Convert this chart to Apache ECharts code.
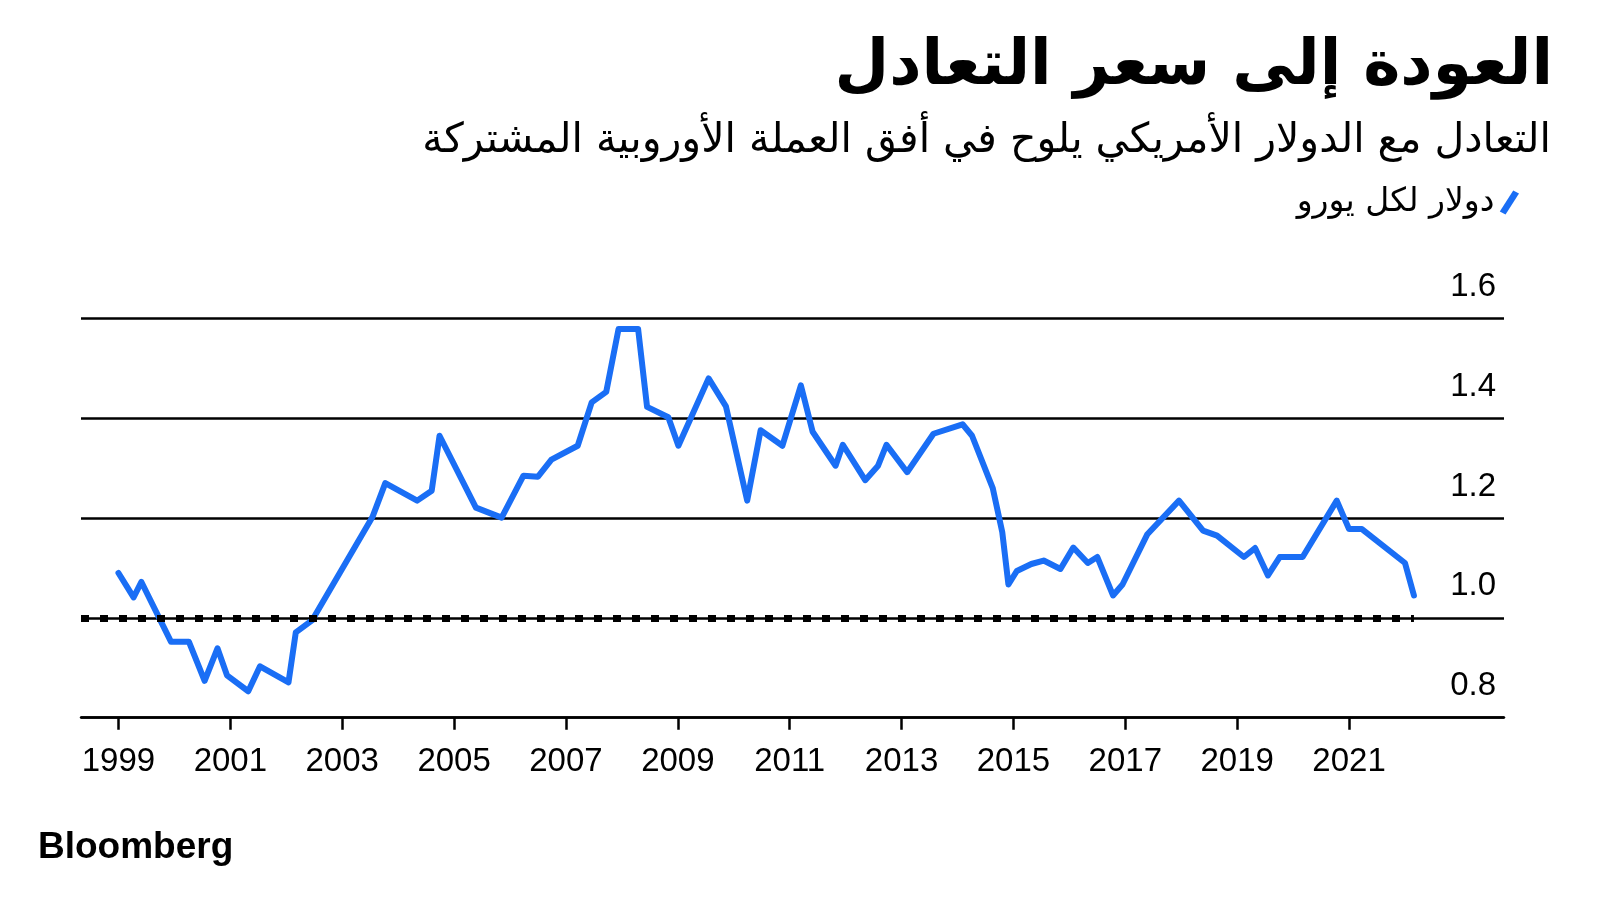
<!DOCTYPE html>
<html lang="ar">
<head>
<meta charset="utf-8">
<title>العودة إلى سعر التعادل</title>
<script src="https://cdn.jsdelivr.net/npm/echarts@6/dist/echarts.min.js"></script>
<style>
  html, body { margin: 0; padding: 0; background: #fff; }
  #chart { width: 1600px; height: 900px; }
</style>
</head>
<body>
<div id="chart"></div>
<script>
// decimal year of each point
const years = [
  1999.00, 1999.27, 1999.41, 1999.94, 2000.26, 2000.54, 2000.77, 2000.94,
  2001.32, 2001.53, 2002.04, 2002.17, 2002.46, 2003.54, 2003.77, 2004.34,
  2004.60, 2004.74, 2005.39, 2005.85, 2006.24, 2006.50, 2006.74, 2007.21,
  2007.46, 2007.72, 2007.94, 2008.29, 2008.45, 2008.83, 2009.01, 2009.55,
  2009.86, 2010.24, 2010.48, 2010.87, 2011.20, 2011.41, 2011.82, 2011.95,
  2012.35, 2012.58, 2012.73, 2013.10, 2013.57, 2014.09, 2014.26, 2014.63,
  2014.80, 2014.91, 2015.06, 2015.32, 2015.54, 2015.84, 2016.07, 2016.33,
  2016.50, 2016.78, 2016.95, 2017.39, 2017.96, 2018.39, 2018.64, 2019.12,
  2019.32, 2019.55, 2019.76, 2020.17, 2020.78, 2021.00, 2021.23, 2022.00,
  2022.16
];

// dollars per euro
const usdPerEuro = [
  1.090, 1.041, 1.072, 0.952, 0.952, 0.874, 0.939, 0.885,
  0.853, 0.903, 0.871, 0.971, 0.995, 1.202, 1.270, 1.235,
  1.255, 1.365, 1.221, 1.201, 1.285, 1.283, 1.317, 1.345,
  1.432, 1.453, 1.579, 1.579, 1.423, 1.402, 1.345, 1.480,
  1.424, 1.235, 1.376, 1.345, 1.466, 1.373, 1.305, 1.347,
  1.276, 1.305, 1.347, 1.292, 1.369, 1.388, 1.365, 1.260,
  1.172, 1.067, 1.094, 1.108, 1.115, 1.098, 1.141, 1.110,
  1.122, 1.045, 1.067, 1.167, 1.235, 1.175, 1.165, 1.122,
  1.140, 1.085, 1.122, 1.122, 1.235, 1.178, 1.178, 1.110,
  1.045
];

const tickYears = [1999, 2001, 2003, 2005, 2007, 2009, 2011, 2013, 2015, 2017, 2019, 2021];
const parity = 1.0;

const seriesName = 'دولار لكل يورو';
const numFont = '"Liberation Sans", Arial, sans-serif';
const arFont = '"DejaVu Sans", sans-serif';
const xMin = 1998.33;
const xMax = 2023.77;

const chart = echarts.init(document.getElementById('chart'));

chart.setOption({
  animation: false,
  backgroundColor: '#fff',
  title: [
    {
      text: 'العودة إلى سعر التعادل',
      right: 42,
      top: 31,
      textStyle: { fontFamily: arFont, fontSize: 63, fontWeight: 'bold', color: '#000' }
    },
    {
      text: 'التعادل مع الدولار الأمريكي يلوح في أفق العملة الأوروبية المشتركة',
      right: 44,
      top: 116,
      textStyle: { fontFamily: arFont, fontSize: 41, fontWeight: 'normal', color: '#000' }
    },
    {
      text: 'Bloomberg',
      left: 33,
      top: 824,
      textStyle: { fontFamily: numFont, fontSize: 37, fontWeight: 'bold', color: '#000' }
    }
  ],
  legend: {
    data: [seriesName],
    right: 76,
    top: 181,
    align: 'right',
    itemWidth: 20,
    itemHeight: 24,
    icon: 'path://M0,22 L14,0 L20,3 L6,25 Z',
    textStyle: { fontFamily: arFont, fontSize: 33, color: '#000' }
  },
  grid: { left: 81, right: 96, top: 318.5, bottom: 182.3 },
  xAxis: {
    type: 'value',
    min: xMin,
    max: xMax,
    axisLine: { show: true, lineStyle: { color: '#000', width: 2.5 } },
    axisTick: {
      show: true,
      customValues: tickYears,
      length: 12,
      lineStyle: { color: '#000', width: 2.5 }
    },
    axisLabel: {
      customValues: tickYears,
      formatter: (v) => String(v),
      margin: 28,
      fontFamily: numFont,
      fontSize: 33,
      color: '#000'
    },
    splitLine: { show: false }
  },
  yAxis: {
    type: 'value',
    position: 'right',
    min: 0.8,
    max: 1.6,
    interval: 0.2,
    axisLine: { show: false },
    axisTick: { show: false },
    axisLabel: {
      inside: true,
      margin: 8,
      verticalAlign: 'bottom',
      padding: [0, 0, 15, 0],
      formatter: (v) => v.toFixed(1),
      fontFamily: numFont,
      fontSize: 33,
      color: '#000'
    },
    splitLine: { show: true, lineStyle: { color: '#000', width: 2.5 } }
  },
  series: [
    {
      name: 'parity',
      type: 'line',
      data: [],
      z: 1,
      silent: true,
      markLine: {
        silent: true,
        symbol: 'none',
        label: { show: false },
        lineStyle: { color: '#000', width: 7, type: [8, 11] },
        data: [[
          { coord: [xMin, parity] },
          { coord: [years[years.length - 1], parity] }
        ]]
      }
    },
    {
      name: seriesName,
      type: 'line',
      z: 3,
      data: years.map((y, i) => [y, usdPerEuro[i]]),
      showSymbol: false,
      lineStyle: { color: '#1a6ef5', width: 6, cap: 'round', join: 'round' },
      itemStyle: { color: '#1a6ef5' }
    }
  ]
});
</script>
</body>
</html>
